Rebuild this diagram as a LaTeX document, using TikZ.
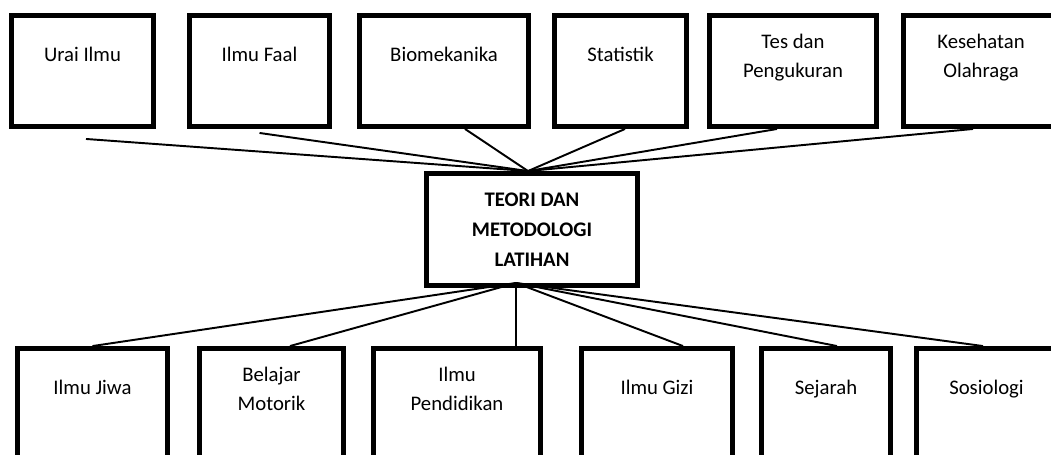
\documentclass[tikz,border=0pt]{standalone}
\usepackage{fontspec}
\setmainfont{Carlito}

\begin{document}
\begin{tikzpicture}[
  font=\fontsize{11.8}{16.4}\selectfont,
  box/.style={rectangle, draw, line width=2.8pt, minimum height=2.22cm,
              inner sep=0pt},
  lbl/.style={align=center, yshift=0.31cm,
              execute at begin node=\strut, execute at end node=\strut},
  lbltwo/.style={lbl, yshift=-0.1cm},
  link/.style={line width=1.1pt}
]
  \clip (0,0) rectangle (21.02,-9.08);
  \useasboundingbox (0,0) rectangle (21.02,-9.08);
  % top row
  \node[box, minimum width=2.84cm, label={[lbl]center:Urai Ilmu}] (urai) at (1.65,-1.42) {};
  \node[box, minimum width=2.80cm, label={[lbl]center:Ilmu Faal}] (faal) at (5.19,-1.42) {};
  \node[box, minimum width=3.38cm, label={[lbl]center:Biomekanika}] (bio) at (8.88,-1.42) {};
  \node[box, minimum width=2.64cm, label={[lbl]center:Statistik}] (stat) at (12.41,-1.42) {};
  \node[box, minimum width=3.34cm, label={[lbltwo]center:{Tes dan\\Pengukuran}}] (tes) at (15.86,-1.42) {};
  \node[box, minimum width=3.10cm, label={[lbltwo]center:{Kesehatan\\Olahraga}}] (kes) at (19.62,-1.42) {};
  % centre
  \node[box, minimum width=4.22cm, minimum height=2.24cm, align=center,
        font=\fontsize{11.8}{17}\selectfont\bfseries] (teori) at (10.64,-4.59)
        {TEORI DAN\\ METODOLOGI\\ LATIHAN};
  % bottom row
  \node[box, minimum width=3.00cm, label={[lbl]center:Ilmu Jiwa}] (jiwa) at (1.85,-8.08) {};
  \node[box, minimum width=2.88cm, label={[lbltwo]center:{Belajar\\Motorik}}] (belajar) at (5.43,-8.08) {};
  \node[box, minimum width=3.34cm, label={[lbltwo]center:{Ilmu\\Pendidikan}}] (didik) at (9.14,-8.08) {};
  \node[box, minimum width=3.02cm, label={[lbl]center:Ilmu Gizi}] (gizi) at (13.14,-8.08) {};
  \node[box, minimum width=2.58cm, label={[lbl]center:Sejarah}] (sejarah) at (16.52,-8.08) {};
  \node[box, minimum width=2.80cm, label={[lbl]center:Sosiologi}] (sosio) at (19.73,-8.08) {};
  % hubs
  \coordinate (hubT) at ([xshift=-0.08cm]teori.north);
  \coordinate (hubB) at ([xshift=-0.32cm, yshift=0.1cm]teori.south);
  % links up
  \draw[link] ([xshift=0.07cm, yshift=-0.2cm]urai.south) -- (hubT);
  \draw[link] ([yshift=-0.08cm]faal.south) -- (hubT);
  \draw[link] ([xshift=0.42cm]bio.south) -- (hubT);
  \draw[link] ([xshift=0.09cm]stat.south) -- (hubT);
  \draw[link] ([xshift=-0.32cm]tes.south) -- (hubT);
  \draw[link] ([xshift=-0.16cm]kes.south) -- (hubT);
  % links down
  \draw[link] (hubB) -- (jiwa.north);
  \draw[link] (hubB) -- ([xshift=0.37cm]belajar.north);
  \draw[link] (hubB) -- ([xshift=1.18cm]didik.north);
  \draw[link] (hubB) -- ([xshift=0.52cm]gizi.north);
  \draw[link] (hubB) -- ([xshift=0.22cm]sejarah.north);
  \draw[link] (hubB) -- ([xshift=-0.07cm]sosio.north);
\end{tikzpicture}
\end{document}
